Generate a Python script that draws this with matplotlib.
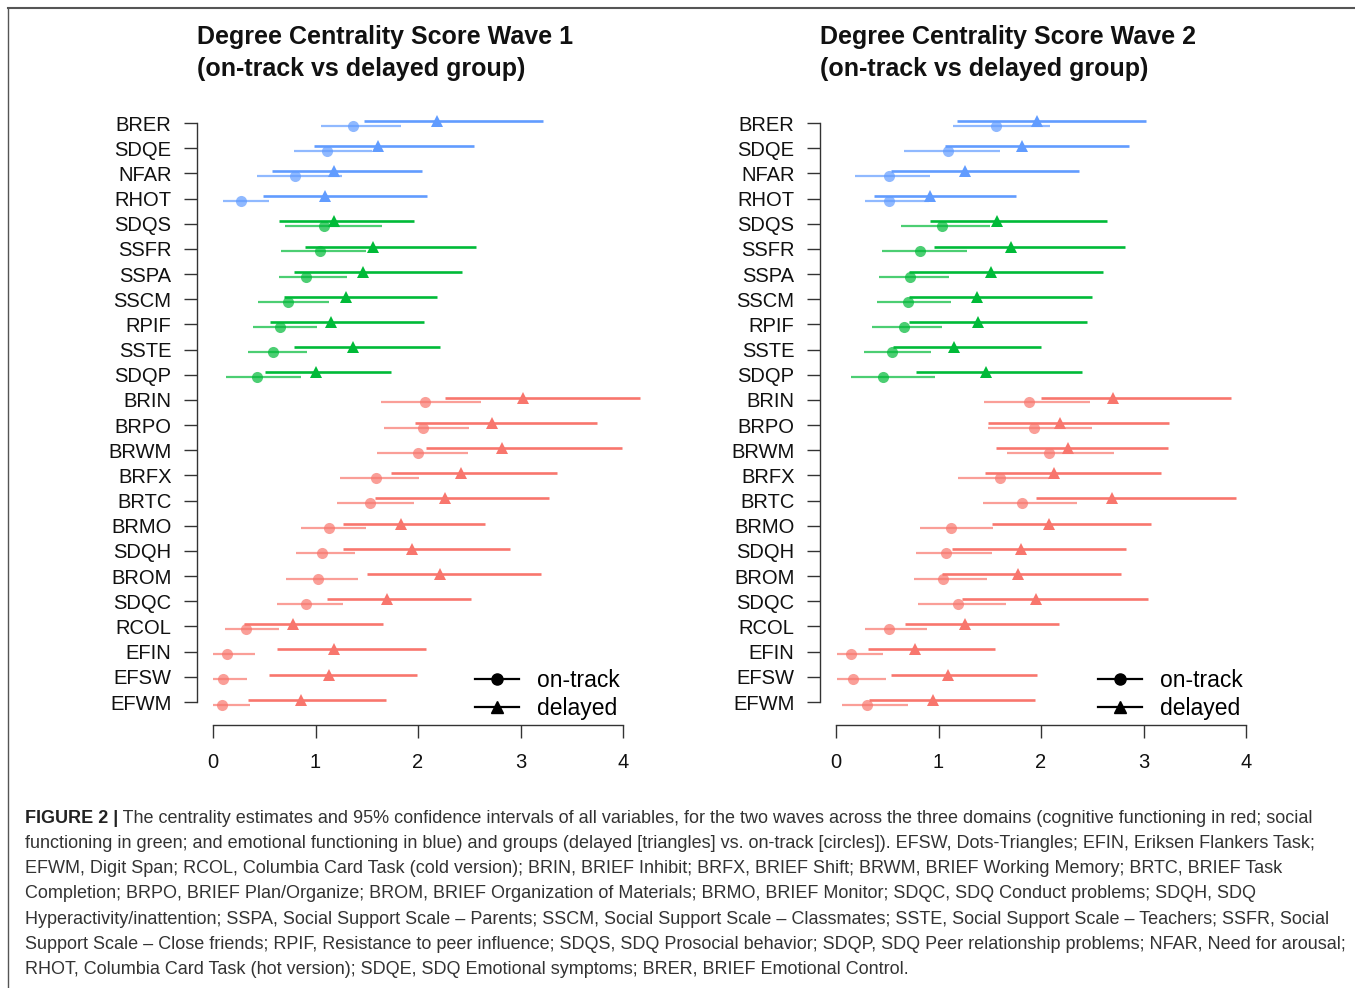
import matplotlib
matplotlib.use('Agg')
import matplotlib.pyplot as plt
from matplotlib.lines import Line2D

plt.rcParams['font.family'] = ['Liberation Sans', 'DejaVu Sans']

# 变量名（从上到下）
names = ['BRER', 'SDQE', 'NFAR', 'RHOT',
         'SDQS', 'SSFR', 'SSPA', 'SSCM', 'RPIF', 'SSTE', 'SDQP',
         'BRIN', 'BRPO', 'BRWM', 'BRFX', 'BRTC', 'BRMO', 'SDQH', 'BROM', 'SDQC',
         'RCOL', 'EFIN', 'EFSW', 'EFWM']
domains = ['emo'] * 4 + ['soc'] * 7 + ['cog'] * 13

# Wave 1
w1_del = [2.19, 1.61, 1.18, 1.09, 1.18, 1.56, 1.46, 1.30, 1.15, 1.37, 1.00,
          3.02, 2.72, 2.82, 2.42, 2.26, 1.83, 1.94, 2.21, 1.70, 0.78, 1.18, 1.13, 0.86]
w1_del_lo = [1.47, 0.99, 0.58, 0.49, 0.64, 0.90, 0.79, 0.69, 0.56, 0.79, 0.51,
             2.26, 1.97, 2.08, 1.74, 1.58, 1.27, 1.27, 1.50, 1.11, 0.30, 0.62, 0.55, 0.34]
w1_del_hi = [3.22, 2.55, 2.04, 2.09, 1.96, 2.57, 2.43, 2.19, 2.06, 2.21, 1.74,
             4.17, 3.75, 3.99, 3.36, 3.28, 2.65, 2.90, 3.20, 2.52, 1.66, 2.08, 1.99, 1.69]
w1_on = [1.37, 1.11, 0.80, 0.27, 1.08, 1.04, 0.91, 0.73, 0.65, 0.59, 0.43,
         2.07, 2.05, 2.00, 1.59, 1.53, 1.13, 1.06, 1.02, 0.91, 0.32, 0.14, 0.10, 0.09]
w1_on_lo = [1.05, 0.79, 0.43, 0.10, 0.70, 0.66, 0.64, 0.44, 0.39, 0.34, 0.13,
            1.64, 1.67, 1.60, 1.24, 1.21, 0.86, 0.81, 0.71, 0.62, 0.12, 0.00, 0.00, 0.00]
w1_on_hi = [1.83, 1.55, 1.26, 0.55, 1.65, 1.49, 1.31, 1.13, 1.01, 0.92, 0.86,
            2.61, 2.50, 2.49, 2.01, 1.96, 1.49, 1.39, 1.41, 1.27, 0.64, 0.41, 0.33, 0.36]

# Wave 2
w2_del = [1.96, 1.81, 1.26, 0.92, 1.57, 1.71, 1.51, 1.38, 1.39, 1.15, 1.46,
          2.70, 2.19, 2.26, 2.13, 2.69, 2.08, 1.80, 1.78, 1.95, 1.26, 0.77, 1.09, 0.95]
w2_del_lo = [1.18, 1.06, 0.54, 0.37, 0.92, 0.96, 0.71, 0.71, 0.71, 0.56, 0.78,
             2.00, 1.48, 1.56, 1.45, 1.95, 1.52, 1.13, 1.03, 1.23, 0.67, 0.31, 0.54, 0.32]
w2_del_hi = [3.02, 2.86, 2.37, 1.76, 2.64, 2.82, 2.60, 2.50, 2.45, 2.00, 2.40,
             3.85, 3.25, 3.24, 3.17, 3.90, 3.07, 2.83, 2.78, 3.04, 2.18, 1.55, 1.96, 1.94]
w2_on = [1.56, 1.09, 0.52, 0.52, 1.03, 0.82, 0.72, 0.70, 0.66, 0.55, 0.46,
         1.88, 1.93, 2.08, 1.60, 1.81, 1.12, 1.07, 1.04, 1.19, 0.52, 0.15, 0.17, 0.30]
w2_on_lo = [1.14, 0.66, 0.19, 0.28, 0.63, 0.45, 0.42, 0.40, 0.35, 0.27, 0.15,
            1.44, 1.48, 1.67, 1.19, 1.43, 0.82, 0.78, 0.76, 0.80, 0.28, 0.01, 0.01, 0.06]
w2_on_hi = [2.09, 1.60, 0.92, 0.91, 1.50, 1.28, 1.10, 1.12, 1.03, 0.93, 0.97,
            2.48, 2.50, 2.71, 2.08, 2.35, 1.53, 1.52, 1.47, 1.66, 0.89, 0.46, 0.49, 0.70]

colors = {'emo': '#619CFF', 'soc': '#00BA38', 'cog': '#F8766D'}
xticks = [0, 1, 2, 3, 4]

W, H = 1355, 988
fig = plt.figure(figsize=(W / 100, H / 100), dpi=100)

# 外框
fig.add_artist(Line2D([8 / W, 1], [1 - 8 / H, 1 - 8 / H], color='#555555', lw=1.5))
fig.add_artist(Line2D([8 / W, 8 / W], [0, 1 - 8 / H], color='#555555', lw=1.0))

n = len(names)
y_top_px, y_bot_px = 123, 702
row_px = (y_bot_px - y_top_px) / (n - 1)
ax_top_px, ax_bot_px = 110, 725
x_lo, x_hi = -0.16, 4.3
unit_px = 102.5


def panel(x0_px, title, d, d_lo, d_hi, o, o_lo, o_hi):
    left_px = x0_px + x_lo * unit_px
    width_px = (x_hi - x_lo) * unit_px
    ax = fig.add_axes([left_px / W, (H - ax_bot_px) / H, width_px / W,
                       (ax_bot_px - ax_top_px) / H])
    ax.set_xlim(x_lo, x_hi)
    ax.set_ylim((n - 1) + (ax_bot_px - y_bot_px) / row_px,
                -(y_top_px - ax_top_px) / row_px)
    for i in range(n):
        c = colors[domains[i]]
        ax.plot([o_lo[i], o_hi[i]], [i + 0.1, i + 0.1], color=c, lw=1.6, alpha=0.7,
                solid_capstyle='butt')
        ax.plot(o[i], i + 0.1, 'o', color=c, ms=8, alpha=0.7, mew=0)
        ax.plot([d_lo[i], d_hi[i]], [i - 0.09, i - 0.09], color=c, lw=1.9,
                solid_capstyle='butt')
        ax.plot(d[i], i - 0.09, '^', color=c, ms=9, mew=0)
    ax.set_yticks(range(n))
    ax.set_yticklabels(names)
    ax.set_xticks(xticks)
    ax.set_xticklabels([str(t) for t in xticks])
    for s in ['top', 'right']:
        ax.spines[s].set_visible(False)
    ax.spines['left'].set_bounds(0, n - 1)
    ax.spines['bottom'].set_bounds(0, 4)
    for s in ['left', 'bottom']:
        ax.spines[s].set_color('#333333')
        ax.spines[s].set_linewidth(1.0)
    ax.tick_params(axis='y', length=9.5, width=1.0, color='#333333', pad=8.5,
                   labelsize=14.5, labelcolor='#111111')
    ax.tick_params(axis='x', length=9.5, width=1.0, color='#333333', pad=11,
                   labelsize=14.5, labelcolor='#111111')
    fig.text((x0_px - 16) / W, 1 - 53 / H, title, fontsize=18, fontweight='bold',
             ha='left', va='center', linespacing=1.38, color='#111111')
    h1 = Line2D([], [], color='black', lw=1.6, marker='o', ms=8)
    h2 = Line2D([], [], color='black', lw=1.6, marker='^', ms=8)
    fig.legend([h1, h2], ['on-track', 'delayed'], loc='upper left',
               bbox_to_anchor=((x0_px + 262) / W, 1 - 669 / H), frameon=False,
               fontsize=16.5, handlelength=1.9, handletextpad=0.8,
               labelspacing=0.2, borderpad=0, borderaxespad=0)
    return ax


panel(213, 'Degree Centrality Score Wave 1\n(on-track vs delayed group)',
      w1_del, w1_del_lo, w1_del_hi, w1_on, w1_on_lo, w1_on_hi)
panel(836, 'Degree Centrality Score Wave 2\n(on-track vs delayed group)',
      w2_del, w2_del_lo, w2_del_hi, w2_on, w2_on_lo, w2_on_hi)

# 图注
cap_font = ['Liberation Sans', 'DejaVu Sans']
cap_size = 13
cap_lines = [
    ' The centrality estimates and 95% confidence intervals of all variables, for the two waves across the three domains (cognitive functioning in red; social',
    'functioning in green; and emotional functioning in blue) and groups (delayed [triangles] vs. on-track [circles]). EFSW, Dots-Triangles; EFIN, Eriksen Flankers Task;',
    'EFWM, Digit Span; RCOL, Columbia Card Task (cold version); BRIN, BRIEF Inhibit; BRFX, BRIEF Shift; BRWM, BRIEF Working Memory; BRTC, BRIEF Task',
    'Completion; BRPO, BRIEF Plan/Organize; BROM, BRIEF Organization of Materials; BRMO, BRIEF Monitor; SDQC, SDQ Conduct problems; SDQH, SDQ',
    'Hyperactivity/inattention; SSPA, Social Support Scale – Parents; SSCM, Social Support Scale – Classmates; SSTE, Social Support Scale – Teachers; SSFR, Social',
    'Support Scale – Close friends; RPIF, Resistance to peer influence; SDQS, SDQ Prosocial behavior; SDQP, SDQ Peer relationship problems; NFAR, Need for arousal;',
    'RHOT, Columbia Card Task (hot version); SDQE, SDQ Emotional symptoms; BRER, BRIEF Emotional Control.',
]
cap_x = 25 / W
cap_y0 = 818
cap_dy = 25.3
renderer = fig.canvas.get_renderer()
tb = fig.text(cap_x, 1 - cap_y0 / H, 'FIGURE 2 |', family=cap_font, fontsize=cap_size,
              fontweight='bold', va='center', ha='left', color='#222222')
bb = tb.get_window_extent(renderer=renderer)
for k, line in enumerate(cap_lines):
    x = bb.x1 / W if k == 0 else cap_x
    fig.text(x, 1 - (cap_y0 + k * cap_dy) / H, line, family=cap_font, fontsize=cap_size,
             va='center', ha='left', color='#333333')

fig.savefig('out.png', dpi=100)
